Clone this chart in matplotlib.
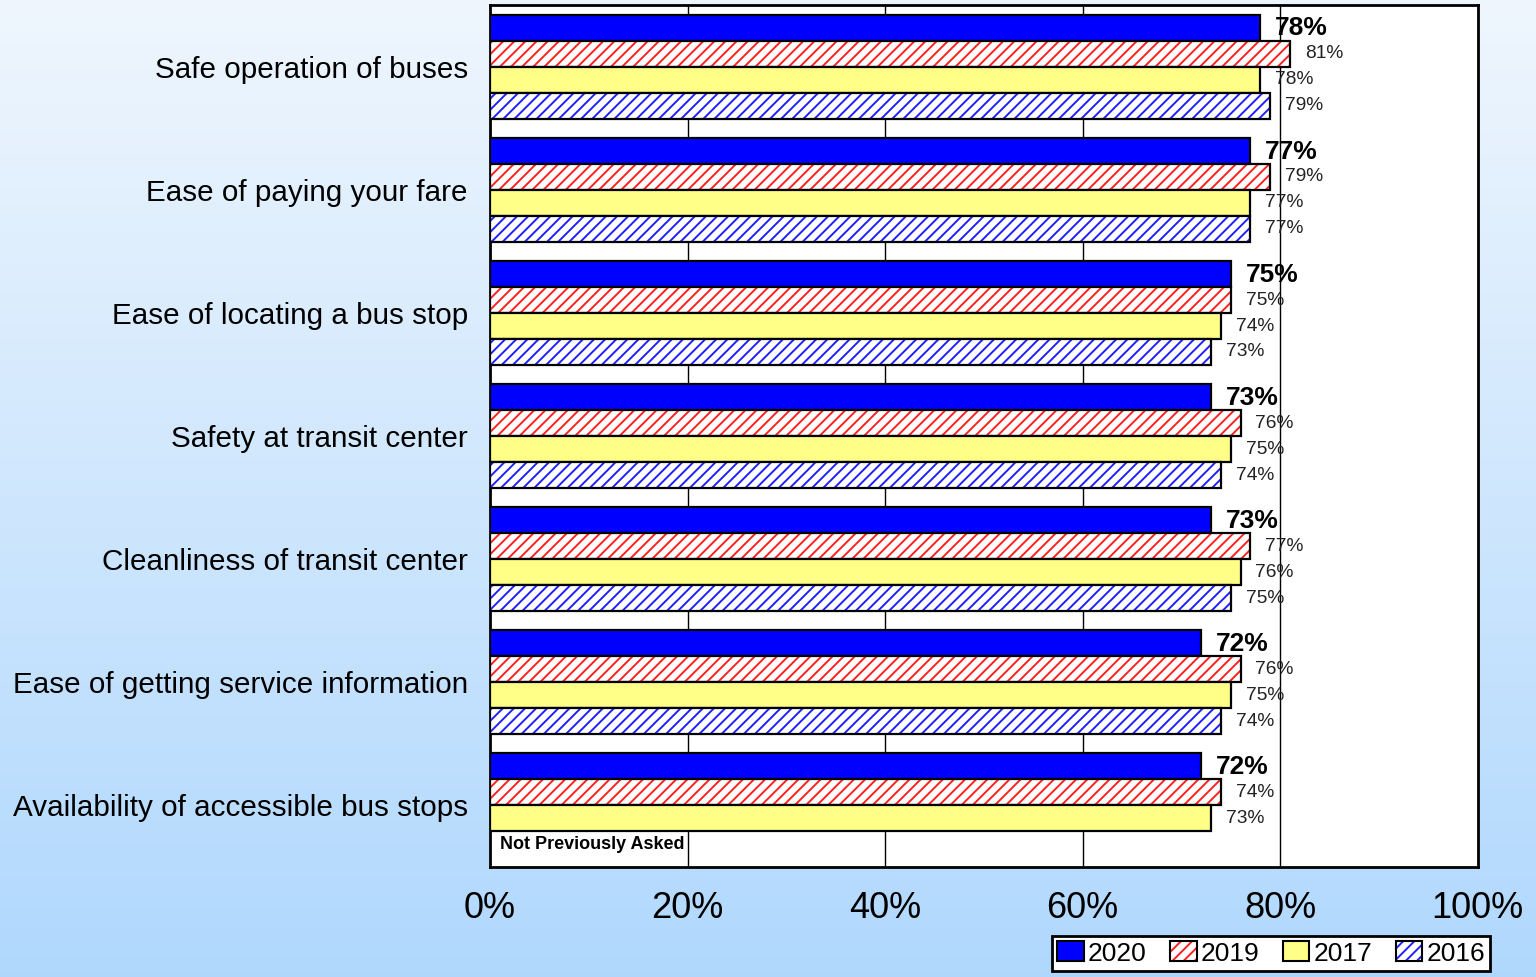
import numpy as np
import matplotlib.pyplot as plt
from matplotlib.patches import Patch
from matplotlib.legend_handler import HandlerTuple

plt.rcParams['font.family'] = ['Liberation Sans', 'DejaVu Sans']
plt.rcParams['hatch.linewidth'] = 1.4

categories = [
    "Safe operation of buses",
    "Ease of paying your fare",
    "Ease of locating a bus stop",
    "Safety at transit center",
    "Cleanliness of transit center",
    "Ease of getting service information",
    "Availability of accessible bus stops",
]
years = ["2020", "2019", "2017", "2016"]
v2020 = [78, 77, 75, 73, 73, 72, 72]
v2019 = [81, 79, 75, 76, 77, 76, 74]
v2017 = [78, 77, 74, 75, 76, 75, 73]
v2016 = [79, 77, 73, 74, 75, 74, None]  # last item not asked in 2016
series = [v2020, v2019, v2017, v2016]

fill = ["#0000ff", "white", "#ffff88", "white"]
hatch_col = [None, "#ff2020", None, "#2020ff"]

fig = plt.figure(figsize=(15.36, 9.77), dpi=100)

# background gradient
bg = fig.add_axes([0, 0, 1, 1], zorder=-10)
grad = np.linspace(0, 1, 256).reshape(-1, 1)
top = np.array([0.937, 0.965, 0.996])
bot = np.array([0.690, 0.847, 0.996])
img = top + (bot - top) * grad[:, :, None]
bg.imshow(img, aspect='auto', extent=[0, 1, 0, 1])
bg.axis('off')

ax = fig.add_axes([0.319, 0.1126, 0.643, 0.882])
ax.set_facecolor("white")

h = 0.211
y = np.arange(len(categories))
offsets = [-1.5 * h, -0.5 * h, 0.5 * h, 1.5 * h]

for k, vals in enumerate(series):
    for i, v in enumerate(vals):
        yy = y[i] + offsets[k]
        if v is None:
            ax.text(1, yy, "Not Previously Asked", va='center', ha='left',
                    fontsize=13, fontweight='bold', zorder=4)
            continue
        if hatch_col[k]:
            ax.barh(yy, v, height=h, color='white', edgecolor=hatch_col[k],
                    hatch='///', linewidth=0, zorder=3)
            ax.barh(yy, v, height=h, fill=False, edgecolor='black',
                    linewidth=1.6, zorder=3)
        else:
            ax.barh(yy, v, height=h, color=fill[k], edgecolor='black',
                    linewidth=1.6, zorder=3)
        if k == 0:
            ax.text(v + 1.5, yy + 0.005, f"{v}%", va='center', ha='left',
                    fontsize=19, fontweight='bold', zorder=4)
        else:
            ax.text(v + 1.5, yy, f"{v}%", va='center', ha='left',
                    fontsize=13.8, color='#222222', zorder=4)

ax.set_xlim(0, 100)
ax.set_ylim(len(categories) - 0.5, -0.5)
ax.set_xticks([0, 20, 40, 60, 80, 100])
ax.set_xticklabels(["0%", "20%", "40%", "60%", "80%", "100%"], fontsize=26)
ax.set_yticks(y)
ax.set_yticklabels(categories, fontsize=21.3)
ax.tick_params(axis='both', length=0)
ax.tick_params(axis='y', pad=16)
ax.tick_params(axis='x', pad=17)
for x in [20, 40, 60, 80]:
    ax.axvline(x, color='black', linewidth=1, zorder=1)
for s in ax.spines.values():
    s.set_linewidth(2)

handles = []
for k in range(4):
    if hatch_col[k]:
        handles.append((Patch(facecolor='white', edgecolor=hatch_col[k], hatch='///', linewidth=0),
                        Patch(fill=False, edgecolor='black', linewidth=1.5)))
    else:
        handles.append(Patch(facecolor=fill[k], edgecolor='black', linewidth=1.5))
leg = fig.legend(handles, years, ncol=4, loc='upper left',
                 bbox_to_anchor=(1052 / 1536, 1 - 936 / 977),
                 handler_map={tuple: HandlerTuple(ndivide=1)},
                 fontsize=19, frameon=True, fancybox=False, edgecolor='black',
                 framealpha=1, handlelength=1.0, handleheight=0.8, handletextpad=0.15,
                 columnspacing=0.9, borderpad=0.2, borderaxespad=0)
leg.get_frame().set_linewidth(2)

fig.savefig("out.png", dpi=100)
